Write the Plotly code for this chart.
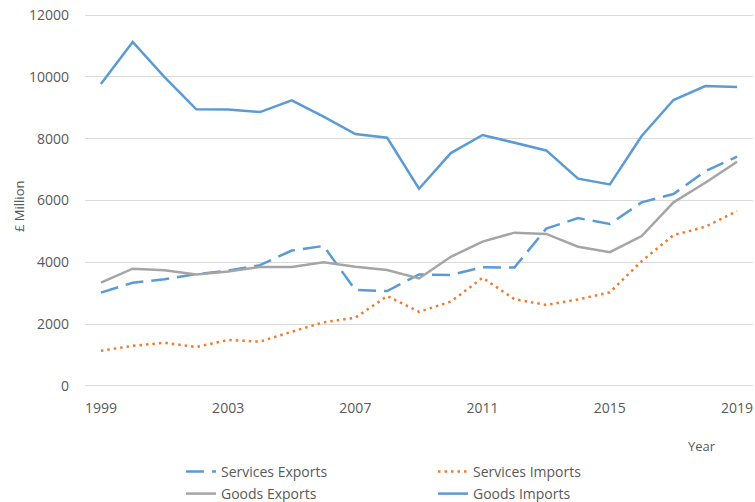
import plotly.graph_objects as go

years = list(range(1999, 2020))
services_exports = [3020, 3340, 3450, 3620, 3730, 3910, 4380, 4530, 3105, 3070, 3610, 3590,
                    3840, 3830, 5090, 5430, 5240, 5940, 6210, 6950, 7420]
services_imports = [1140, 1300, 1400, 1260, 1490, 1435, 1755, 2060, 2210, 2910, 2400, 2730,
                    3500, 2810, 2620, 2800, 3030, 4040, 4880, 5150, 5660]
goods_exports = [3340, 3795, 3740, 3610, 3700, 3850, 3850, 4000, 3860, 3750, 3480, 4180,
                 4670, 4960, 4920, 4505, 4330, 4850, 5940, 6575, 7255]
goods_imports = [9770, 11130, 9990, 8950, 8940, 8860, 9240, 8710, 8150, 8030, 6380, 7535,
                 8120, 7870, 7620, 6705, 6520, 8085, 9250, 9700, 9670]
x_ticks = [1999, 2003, 2007, 2011, 2015, 2019]

BLUE = "#5b9bd5"
ORANGE = "#ed7d31"
GRAY = "#a5a5a5"
TXT = "#595959"
FONT = "Open Sans"

W, H = 755, 502
L, R, T, B = 85, 2, 13, 114
pw = W - L - R
ph = H - T - B


def sx(p):  # screen x -> paper x
    return (p - L) / pw


def sy(p):  # screen y -> paper y
    return (H - B - p) / ph


def cx(p):  # screen x -> container x
    return p / W


def cy(p):  # screen y -> container y
    return 1 - p / H


fig = go.Figure()
fig.add_trace(go.Scatter(x=years, y=services_exports, mode="lines", name="Services Exports",
                         line=dict(color=BLUE, width=2.5, dash="18px,8px"), legend="legend"))
fig.add_trace(go.Scatter(x=years, y=services_imports, mode="lines", name="Services Imports",
                         line=dict(color=ORANGE, width=2.5, dash="2.5px,4px"), legend="legend2"))
fig.add_trace(go.Scatter(x=years, y=goods_exports, mode="lines", name="Goods Exports",
                         line=dict(color=GRAY, width=2.5), legend="legend3"))
fig.add_trace(go.Scatter(x=years, y=goods_imports, mode="lines", name="Goods Imports",
                         line=dict(color=BLUE, width=2.5), legend="legend4"))


def leg(xp, yp):
    return dict(xref="container", yref="container", x=cx(xp), y=cy(yp),
                xanchor="left", yanchor="middle", orientation="h",
                font=dict(family=FONT, size=14, color=TXT),
                bgcolor="rgba(0,0,0,0)", itemclick=False, borderwidth=0)


col1, col2 = 181, 433
row1, row2 = 472, 494

fig.update_layout(
    width=W, height=H,
    margin=dict(l=L, r=R, t=T, b=B, autoexpand=False),
    paper_bgcolor="white", plot_bgcolor="white",
    font=dict(family=FONT, size=14, color=TXT),
    showlegend=True,
    legend=leg(col1, row1),
    legend2=leg(col2, row1),
    legend3=leg(col1, row2),
    legend4=leg(col2, row2),
    xaxis=dict(range=[1998.5, 2019.5], tickvals=x_ticks, ticktext=[str(v) for v in x_ticks],
               showgrid=False, zeroline=False, showline=False, ticks="",
               ticklabeloverflow="allow", ticklabelstandoff=10,
               tickfont=dict(family=FONT, size=14, color=TXT)),
    yaxis=dict(range=[-65, 12065], tickvals=[0, 2000, 4000, 6000, 8000, 10000, 12000],
               tickformat="d", showgrid=True,
               gridcolor="#d9d9d9", gridwidth=1, zeroline=False, showline=False, ticks="",
               ticklabeloverflow="allow", ticklabelstandoff=15,
               tickfont=dict(family=FONT, size=14, color=TXT)),
    annotations=[
        dict(text="Year", xref="paper", yref="paper", x=sx(702), y=sy(446),
             xanchor="center", yanchor="middle",
             showarrow=False, font=dict(family=FONT, size=13, color=TXT)),
        dict(text="£ Million", xref="paper", yref="paper", x=sx(19), y=sy(207), textangle=-90,
             xanchor="center", yanchor="middle",
             showarrow=False, font=dict(family=FONT, size=13, color=TXT)),
    ],
)

fig.write_html(
    "out.html",
    config={"displayModeBar": False},
    post_script="document.body.style.margin='0';document.body.style.overflow='hidden';",
)
